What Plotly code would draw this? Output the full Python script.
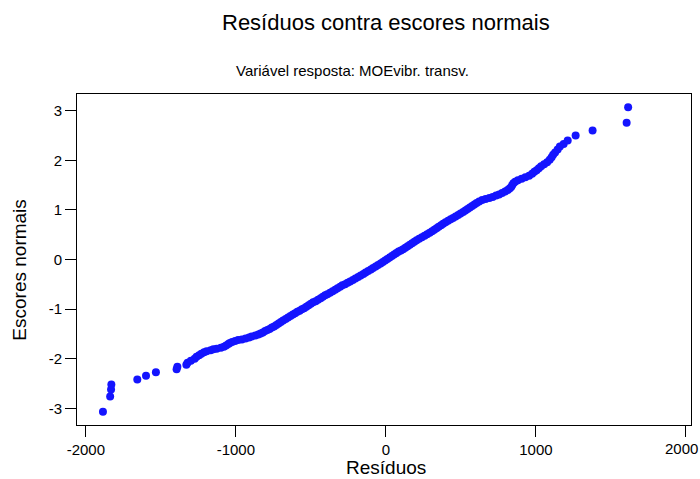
import plotly.graph_objects as go

# Ordered residuals and their normal scores (one entry per plotted point)
residuos = [
    -1886, -1838, -1832, -1830, -1657, -1599, -1533, -1395, -1390, -1330,
    -1322, -1300, -1275, -1262, -1245, -1230, -1212, -1195, -1168, -1150,
    -1128, -1100, -1080, -1065, -1050, -1040, -1025, -1005, -985, -960,
    -935, -912, -895, -870, -850, -835, -820, -805, -790, -775,
    -760, -745, -730, -715, -700, -685, -668, -652, -636, -620,
    -605, -590, -575, -560, -545, -530, -515, -500, -485, -468,
    -452, -435, -420, -405, -390, -372, -355, -338, -322, -305,
    -290, -272, -255, -238, -220, -203, -185, -168, -150, -135,
    -118, -100, -85, -68, -52, -35, -20, -5, 10, 25,
    40, 55, 70, 85, 100, 115, 130, 145, 160, 175,
    190, 205, 222, 240, 258, 275, 292, 308, 323, 338,
    352, 368, 382, 398, 415, 432, 448, 465, 482, 498,
    515, 530, 545, 560, 575, 590, 605, 622, 642, 665,
    690, 712, 735, 755, 775, 795, 812, 825, 835, 842,
    850, 862, 880, 905, 930, 955, 975, 990, 1005, 1020,
    1035, 1055, 1075, 1092, 1105, 1115, 1128, 1145, 1160, 1185,
    1212, 1265, 1378, 1605, 1615,
]
escores = [
    -3.07, -2.76, -2.62, -2.52, -2.42, -2.34, -2.27, -2.21, -2.16, -2.12,
    -2.08, -2.04, -2.00, -1.96, -1.93, -1.90, -1.87, -1.85, -1.83, -1.81,
    -1.80, -1.78, -1.76, -1.73, -1.70, -1.68, -1.66, -1.64, -1.62, -1.61,
    -1.59, -1.57, -1.55, -1.53, -1.51, -1.49, -1.47, -1.44, -1.42, -1.40,
    -1.37, -1.35, -1.32, -1.29, -1.26, -1.23, -1.20, -1.17, -1.14, -1.11,
    -1.08, -1.05, -1.03, -1.00, -0.98, -0.95, -0.92, -0.89, -0.86, -0.84,
    -0.81, -0.78, -0.75, -0.72, -0.70, -0.67, -0.64, -0.61, -0.58, -0.55,
    -0.52, -0.50, -0.47, -0.44, -0.41, -0.38, -0.35, -0.32, -0.29, -0.26,
    -0.23, -0.20, -0.17, -0.14, -0.11, -0.08, -0.05, -0.02, 0.01, 0.04,
    0.07, 0.10, 0.13, 0.16, 0.18, 0.21, 0.24, 0.27, 0.30, 0.33,
    0.36, 0.39, 0.42, 0.45, 0.48, 0.51, 0.54, 0.57, 0.60, 0.63,
    0.66, 0.69, 0.72, 0.75, 0.78, 0.81, 0.84, 0.87, 0.90, 0.93,
    0.96, 0.99, 1.02, 1.05, 1.08, 1.11, 1.14, 1.17, 1.20, 1.22,
    1.24, 1.26, 1.29, 1.31, 1.34, 1.37, 1.40, 1.43, 1.46, 1.50,
    1.54, 1.57, 1.60, 1.63, 1.66, 1.69, 1.73, 1.77, 1.80, 1.84,
    1.88, 1.92, 1.96, 2.01, 2.06, 2.11, 2.16, 2.22, 2.28, 2.33,
    2.40, 2.50, 2.60, 2.76, 3.07,
]

x_ticks = [-2000, -1000, 0, 1000, 2000]
x_ticklabels = ["-2000", "-1000", "0", "1000", "2000"]
y_ticks = [-3, -2, -1, 0, 1, 2, 3]
y_ticklabels = ["-3", "-2", "-1", "0", "1", "2", "3"]

FONT = "Liberation Sans, Arial, sans-serif"

fig = go.Figure(
    go.Scatter(
        x=residuos,
        y=escores,
        mode="markers",
        marker=dict(size=8, color="rgb(20,20,255)", line=dict(width=0)),
        hoverinfo="x+y",
    )
)

axis_common = dict(
    showgrid=False,
    zeroline=False,
    showline=True,
    mirror=True,
    linecolor="black",
    linewidth=1,
    ticks="outside",
    ticklen=11,
    tickwidth=1,
    tickcolor="black",
    automargin=False,
    tickfont=dict(family=FONT, size=15, color="black"),
)

# The last x label sits against the page edge, so it is drawn as an
# annotation nudged slightly left; the axis keeps its tick mark.
fig.update_xaxes(
    range=[-2059, 2034],
    tickmode="array",
    tickvals=x_ticks,
    ticktext=x_ticklabels[:-1] + [""],
    **axis_common,
)
fig.update_yaxes(
    range=[-3.335, 3.337],
    tickmode="array",
    tickvals=y_ticks,
    ticktext=y_ticklabels,
    **axis_common,
)

fig.update_layout(
    width=700,
    height=479,
    margin=dict(l=77, r=9, t=94, b=54),
    paper_bgcolor="white",
    plot_bgcolor="white",
    showlegend=False,
    font=dict(family=FONT, color="black"),
    annotations=[
        dict(
            text="Resíduos contra escores normais",
            xref="paper", yref="paper", x=0.503, y=1.2175,
            xanchor="center", yanchor="middle", showarrow=False,
            font=dict(family=FONT, size=22, color="black"),
        ),
        dict(
            text="Variável resposta: MOEvibr. transv.",
            xref="paper", yref="paper", x=0.4487, y=1.0725,
            xanchor="center", yanchor="middle", showarrow=False,
            font=dict(family=FONT, size=15, color="black"),
        ),
        dict(
            text=x_ticklabels[-1],
            xref="x", yref="paper", x=x_ticks[-1], y=-0.072,
            xanchor="center", yanchor="middle", showarrow=False,
            xshift=-4,
            font=dict(family=FONT, size=15, color="black"),
        ),
        dict(
            text="Resíduos",
            xref="paper", yref="paper", x=0.503, y=-0.127,
            xanchor="center", yanchor="middle", showarrow=False,
            font=dict(family=FONT, size=19, color="black"),
        ),
        dict(
            text="Escores normais",
            xref="paper", yref="paper", x=-0.093, y=0.469,
            xanchor="center", yanchor="middle", showarrow=False,
            textangle=-90,
            font=dict(family=FONT, size=19, color="black"),
        ),
    ],
)

fig.write_html("out.html")
